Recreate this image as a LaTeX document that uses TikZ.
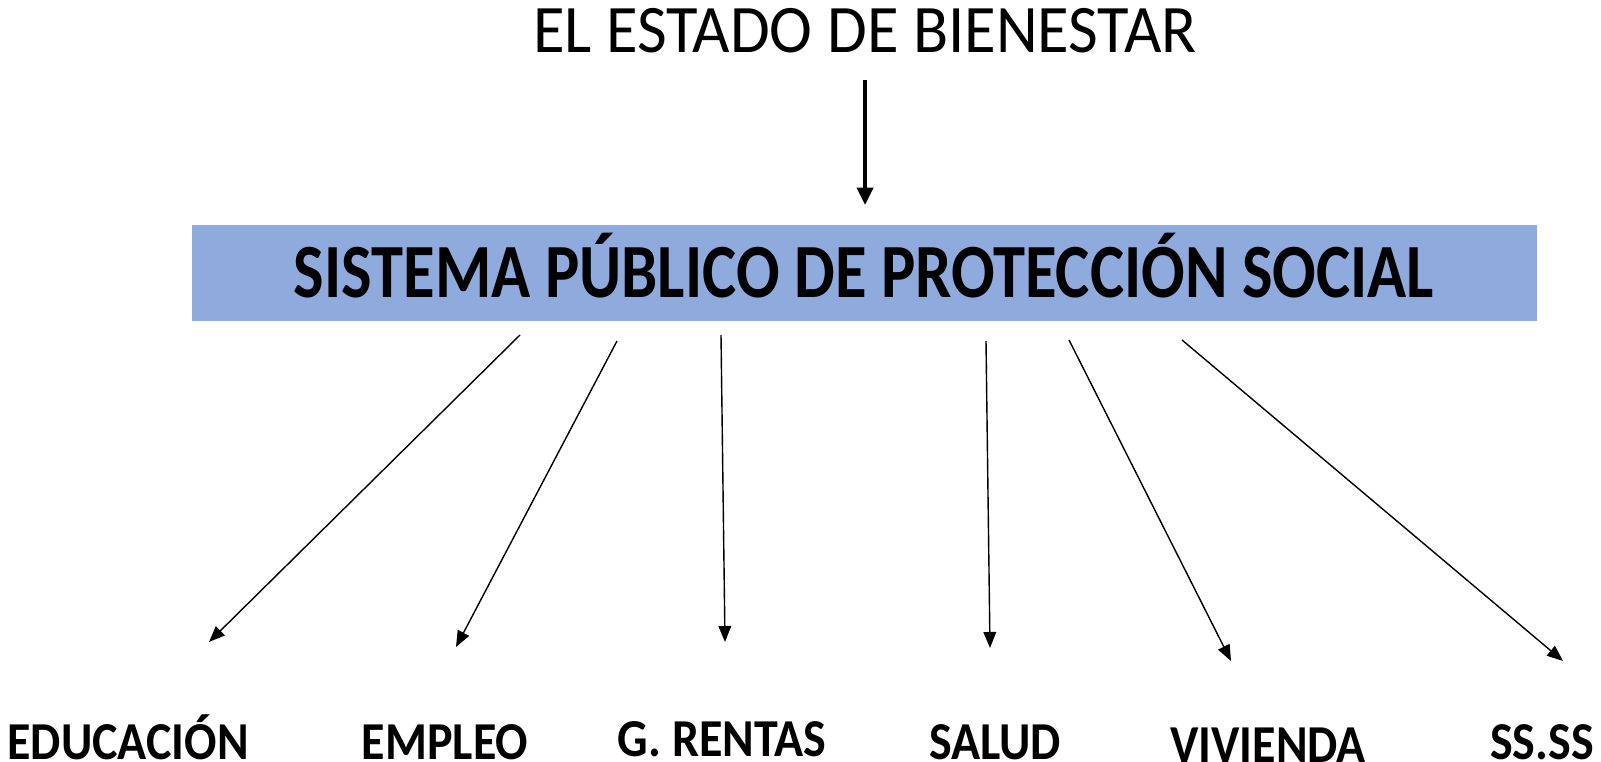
\documentclass[tikz,border=0pt]{standalone}
\usepackage{fontspec}
\setmainfont{Carlito}
\usetikzlibrary{arrows.meta}
\definecolor{boxblue}{HTML}{8FAADC}
\tikzset{
  thinarrow/.style={line width=1.4pt*0.75, -{Triangle[length=12pt,width=9.5pt]}},
  thickarrow/.style={line width=3.6pt*0.75, -{Triangle[length=13pt,width=12pt]}},
  lbl/.style={font=\fontsize{40}{40}\selectfont\bfseries, anchor=base, inner sep=0pt, xscale=0.9},
}
\begin{document}
\begin{tikzpicture}[x=0.75pt,y=-0.75pt]
\useasboundingbox (0,0) rectangle (1601,762);
% title
\node[font=\fontsize{51}{51}\selectfont, anchor=base, inner sep=0pt, xscale=0.95] (title) at (865,53) {EL ESTADO DE BIENESTAR};
% box
\node[fill=boxblue, draw=boxblue, minimum width=1344*0.75pt, minimum height=95*0.75pt, inner sep=0pt] (box) at (864,272.5) {};
\node[font=\fontsize{57.5}{57.5}\selectfont\bfseries, anchor=base, inner sep=0pt, xscale=0.842] (boxtext) at (864,298) {SISTEMA PÚBLICO DE PROTECCIÓN SOCIAL};
\coordinate (t0) at (865,80);
\coordinate (t1) at (865,205);
\draw[thickarrow] (t0) -- (t1);
% labels
\node[lbl] (edu) at (128,759) {EDUCACIÓN};
\node[lbl] (emp) at (445,759) {EMPLEO};
\node[lbl] (ren) at (722,756) {G. RENTAS};
\node[lbl] (sal) at (995,759) {SALUD};
\node[lbl] (viv) at (1268,762) {VIVIENDA};
\node[lbl] (sss) at (1542,759) {SS.SS};
% arrow ends
\coordinate (s1) at (520,335); \coordinate (e1) at (209,642);
\coordinate (s2) at (617,341); \coordinate (e2) at (456,647);
\coordinate (s3) at (721,335); \coordinate (e3) at (725,642);
\coordinate (s4) at (986,341); \coordinate (e4) at (990,648);
\coordinate (s5) at (1069,340); \coordinate (e5) at (1231,661);
\coordinate (s6) at (1182,340); \coordinate (e6) at (1563,661);
\draw[thinarrow] (s1) -- (e1);
\draw[thinarrow] (s2) -- (e2);
\draw[thinarrow] (s3) -- (e3);
\draw[thinarrow] (s4) -- (e4);
\draw[thinarrow] (s5) -- (e5);
\draw[thinarrow] (s6) -- (e6);
\end{tikzpicture}
\end{document}
